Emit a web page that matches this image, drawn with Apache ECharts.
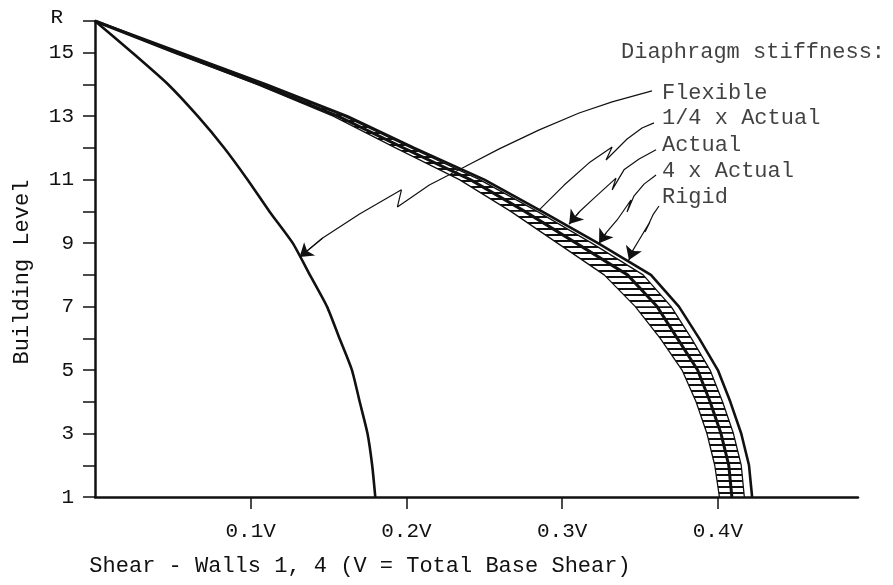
<!DOCTYPE html>
<html>
<head>
<meta charset="utf-8">
<script src="https://cdn.jsdelivr.net/npm/echarts@6/dist/echarts.min.js"></script>
<style>
    html, body { margin: 0; padding: 0; background: #fff; }
    #chart { width: 893px; height: 585px; }
</style>
</head>
<body>
<div id="chart"></div>
<script>
// building levels 1 .. R (R = 16)
const levels = [1, 2, 3, 4, 5, 6, 7, 8, 9, 10, 11, 12, 13, 14, 15, 16];
const levelLabels = ['1', '', '3', '', '5', '', '7', '', '9', '', '11', '', '13', '', '15', 'R'];
const shearTicks = [0.1, 0.2, 0.3, 0.4];
const shearLabels = ['0.1V', '0.2V', '0.3V', '0.4V'];

// shear per level (fraction of V)
const flexible      = [0.180, 0.178, 0.175, 0.170, 0.165, 0.157, 0.149, 0.138, 0.127, 0.112, 0.098, 0.083, 0.066, 0.047, 0.024, 0];
const quarterActual = [0.401, 0.398, 0.393, 0.386, 0.377, 0.363, 0.347, 0.327, 0.297, 0.267, 0.234, 0.193, 0.153, 0.104, 0.051, 0];
const actual        = [0.409, 0.407, 0.402, 0.395, 0.387, 0.374, 0.361, 0.342, 0.309, 0.276, 0.241, 0.198, 0.156, 0.106, 0.052, 0];
const fourActual    = [0.417, 0.415, 0.410, 0.403, 0.395, 0.383, 0.370, 0.352, 0.319, 0.284, 0.247, 0.203, 0.160, 0.109, 0.054, 0];
const rigid         = [0.422, 0.420, 0.415, 0.408, 0.400, 0.388, 0.375, 0.357, 0.323, 0.287, 0.250, 0.205, 0.162, 0.110, 0.055, 0];

// leader lines from the notes to the curves, [shear, level]
const leaderFlexible = [[0.3577, 13.80], [0.3321, 13.45], [0.3109, 13.10], [0.2853, 12.57], [0.2596, 11.97], [0.2372, 11.40], [0.2147, 10.83], [0.1942, 10.14], [0.1968, 10.68], [0.1699, 9.92], [0.1462, 9.16], [0.1314, 8.56]];
const leaderQuarter  = [[0.3590, 12.79], [0.3513, 12.63], [0.3417, 12.28], [0.3282, 11.62], [0.3321, 12.03], [0.3173, 11.53], [0.3013, 10.83], [0.2853, 10.05]];
const leaderActual   = [[0.3603, 11.94], [0.3494, 11.65], [0.3397, 11.31], [0.3321, 10.68], [0.3346, 11.05], [0.3205, 10.42], [0.3109, 9.98], [0.3045, 9.60]];
const leaderFour     = [[0.3603, 11.15], [0.3526, 10.86], [0.3462, 10.49], [0.3417, 9.98], [0.3442, 10.36], [0.3353, 9.73], [0.3282, 9.32], [0.3237, 9.00]];
const leaderRigid    = [[0.3622, 10.17], [0.3583, 9.89], [0.3532, 9.35], [0.3564, 9.67], [0.3494, 9.10], [0.3455, 8.78], [0.3429, 8.47]];

// note texts and where they sit, [shear, level]
const noteTitle = 'Diaphragm stiffness:';
const noteTitleAt = [0.3378, 15.02];
const noteNames = ['Flexible', '1/4 x Actual', 'Actual', '4 x Actual', 'Rigid'];
const noteAt = [[0.3641, 13.73], [0.3641, 12.94], [0.3641, 12.09], [0.3641, 11.27], [0.3641, 10.45]];

const INK = '#111';
const FONT = 'Liberation Mono';

function renderChart() {
    const chart = echarts.init(document.getElementById('chart'));

    // hatch between 1/4 x Actual and 4 x Actual
    const hatch = document.createElement('canvas');
    hatch.width = 8;
    hatch.height = 6;
    const hctx = hatch.getContext('2d');
    hctx.fillStyle = INK;
    hctx.fillRect(0, 0, 8, 2);

    const bandCells = [];
    for (let i = 0; i < levels.length - 1; i++) {
        bandCells.push([quarterActual[i], fourActual[i], levels[i], quarterActual[i + 1], fourActual[i + 1], levels[i + 1]]);
    }

    const toPoints = arr => levels.map((lv, i) => [arr[i], lv]);
    const curve = (name, arr, width, smooth) => ({
        name: name,
        type: 'line',
        data: toPoints(arr),
        symbol: 'none',
        smooth: smooth || false,
        lineStyle: { color: INK, width: width },
        z: 3
    });
    const leader = (name, pts) => ({
        name: name,
        type: 'line',
        data: pts,
        symbol: 'none',
        lineStyle: { color: INK, width: 1.2 },
        z: 4
    });
    const lastSeg = pts => ({ coords: [pts[pts.length - 2], pts[pts.length - 1]] });

    const tickText = { fontFamily: FONT, fontSize: 21, color: INK };
    const textStyle = { fontFamily: FONT, fontSize: 22, color: INK };

    const option = {
        animation: false,
        grid: { left: 95, right: 35, top: 21, bottom: 88 },
        xAxis: {
            type: 'value',
            min: 0,
            max: 0.49,
            interval: 0.1,
            splitLine: { show: false },
            axisLine: { lineStyle: { color: INK, width: 2.5 } },
            axisTick: { customValues: shearTicks, length: 12, lineStyle: { color: INK, width: 1.5 } },
            axisLabel: Object.assign({
                customValues: shearTicks,
                margin: 24,
                formatter: function (v) {
                    const i = shearTicks.findIndex(t => Math.abs(t - v) < 1e-9);
                    return i >= 0 ? shearLabels[i] : '';
                }
            }, tickText),
            name: 'Shear - Walls 1, 4 (V = Total Base Shear)',
            nameLocation: 'middle',
            nameGap: 58,
            nameTextStyle: Object.assign({ padding: [0, 233, 0, 0] }, textStyle)
        },
        yAxis: {
            type: 'value',
            min: 1,
            max: 16,
            interval: 1,
            splitLine: { show: false },
            axisLine: { lineStyle: { color: INK, width: 2.5 } },
            axisTick: { length: 12, lineStyle: { color: INK, width: 1.5 } },
            axisLabel: Object.assign({
                margin: 21,
                formatter: function (v) {
                    const s = levelLabels[Math.round(v) - 1] || '';
                    return s === 'R' ? '{r|R}' : s;
                },
                rich: {
                    r: { fontFamily: FONT, fontSize: 21, color: INK, padding: [0, 11, 8, 0] }
                }
            }, tickText),
            name: 'Building Level',
            nameLocation: 'middle',
            nameGap: 62,
            nameTextStyle: Object.assign({ padding: [0, 26, 0, 0] }, textStyle)
        },
        series: [
            {
                name: 'hatch',
                type: 'custom',
                silent: true,
                z: 2,
                encode: { x: [0, 1, 3, 4], y: [2, 5] },
                data: bandCells,
                renderItem: function (params, api) {
                    const a = api.coord([api.value(0), api.value(2)]);
                    const b = api.coord([api.value(1), api.value(2)]);
                    const c = api.coord([api.value(4), api.value(5)]);
                    const d = api.coord([api.value(3), api.value(5)]);
                    return {
                        type: 'polygon',
                        shape: { points: [a, b, c, d] },
                        style: { fill: { image: hatch, repeat: 'repeat' }, stroke: null }
                    };
                }
            },
            curve('Flexible', flexible, 2.6, 0.2),
            curve('1/4 x Actual', quarterActual, 1.3),
            curve('Actual', actual, 3),
            curve('4 x Actual', fourActual, 1.3),
            curve('Rigid', rigid, 2.6),
            leader('leader Flexible', leaderFlexible),
            leader('leader 1/4', leaderQuarter),
            leader('leader Actual', leaderActual),
            leader('leader 4x', leaderFour),
            leader('leader Rigid', leaderRigid),
            {
                name: 'arrows',
                type: 'lines',
                coordinateSystem: 'cartesian2d',
                symbol: ['none', 'arrow'],
                symbolSize: [7, 13],
                lineStyle: { color: INK, width: 1.2, opacity: 1 },
                data: [lastSeg(leaderFlexible), lastSeg(leaderActual), lastSeg(leaderFour), lastSeg(leaderRigid)],
                z: 5
            },
            {
                name: 'notes',
                type: 'scatter',
                symbolSize: 0,
                silent: true,
                label: Object.assign({ show: true, position: 'right', distance: 0, formatter: '{b}' }, textStyle),
                data: [{ name: noteTitle, value: noteTitleAt }].concat(
                    noteNames.map((n, i) => ({ name: n, value: noteAt[i] }))
                ),
                z: 6
            }
        ]
    };

    chart.setOption(option);
}

renderChart();
</script>
</body>
</html>
